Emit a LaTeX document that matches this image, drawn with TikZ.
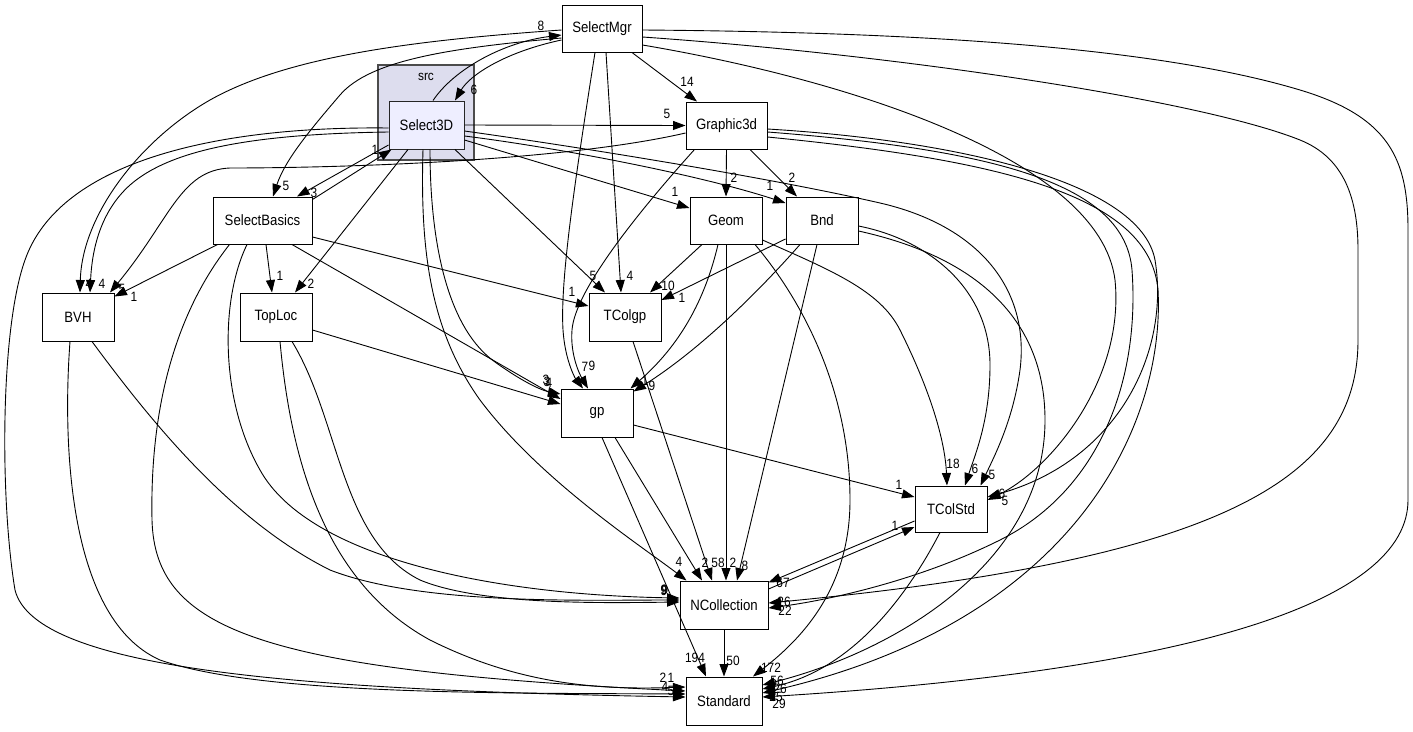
\documentclass[tikz,border=0pt]{standalone}
\usepackage{fontspec}
\setmainfont{Liberation Sans}[FakeStretch=0.88]
\usetikzlibrary{arrows.meta,calc}
\definecolor{clusterfill}{HTML}{DDDDEE}
\definecolor{selfill}{HTML}{EEEEFF}
\tikzset{
  nd/.style={draw=black, line width=1pt, fill=white, inner sep=0pt, font=\fontsize{15}{17}\selectfont},
  e/.style={-{Triangle[length=12.5pt,width=9pt]}, line width=0.9pt},
  lb/.style={font=\fontsize{13.5}{14}\selectfont, inner sep=0pt},
}
\begin{document}
\begin{tikzpicture}[x=1pt,y=-1pt]
\fill[white] (0,0) rectangle (1413,731);
\useasboundingbox (0,0) rectangle (1413,731);
% cluster
\node[draw=black!70, line width=1.5pt, fill=clusterfill, minimum width=96pt, minimum height=95pt, inner sep=0pt] (src) at (426,112.5) {};
\node[lb] (srct) at (426,77) {src};
% nodes
\node[nd, minimum width=80pt, minimum height=47pt] (SelectMgr) at (602,28.5) {SelectMgr};
\node[nd, fill=selfill, draw=black!85, minimum width=75pt, minimum height=48pt] (Select3D) at (426.5,125) {Select3D};
\node[nd, minimum width=81pt, minimum height=47pt] (Graphic3d) at (726.5,125.5) {Graphic3d};
\node[nd, minimum width=99pt, minimum height=47pt] (SelectBasics) at (262.5,220.5) {SelectBasics};
\node[nd, minimum width=72pt, minimum height=47pt] (Geom) at (726,220.5) {Geom};
\node[nd, minimum width=72pt, minimum height=47pt] (Bnd) at (822,220.5) {Bnd};
\node[nd, minimum width=72pt, minimum height=48pt] (BVH) at (78,317) {BVH};
\node[nd, minimum width=72pt, minimum height=48pt] (TopLoc) at (276,317) {TopLoc};
\node[nd, minimum width=72pt, minimum height=48pt] (TColgp) at (625,317) {TColgp};
\node[nd, minimum width=72pt, minimum height=48pt] (gp) at (597,413) {gp};
\node[nd, minimum width=72pt, minimum height=46pt] (TColStd) at (951,509) {TColStd};
\node[nd, minimum width=88pt, minimum height=48pt] (NCollection) at (724,605) {NCollection};
\node[nd, minimum width=76pt, minimum height=48pt] (Standard) at (724,701) {Standard};

% edges from Select3D / SelectMgr
\draw[e] ([xshift=6.5pt]Select3D.north) .. controls (455,68) and (505,42) .. ([yshift=-6.5pt]SelectMgr.west);
\draw[e] ([yshift=-11.5pt]SelectMgr.west) .. controls (505,52) and (470,75) .. ([xshift=28.5pt]Select3D.north);
\draw[e] (Select3D.east) -- (Graphic3d.west);
\draw[e] ([xshift=30pt]SelectMgr.south) -- ([xshift=-29.5pt]Graphic3d.north);
\draw[e] ([yshift=-1.5pt]SelectMgr.west) .. controls (420,40) and (290,55) .. (210,100) .. controls (140,140) and (82,215) .. ([xshift=2pt]BVH.north);
\draw[e] ([yshift=-9.5pt]SelectMgr.west) .. controls (450,48) and (370,60) .. (340,95) .. controls (310,130) and (285,160) .. ([xshift=10.5pt]SelectBasics.north);
\draw[e] ([yshift=-7pt]Select3D.west) .. controls (250,134) and (170,150) .. (130,185) .. controls (100,212) and (92,250) .. ([xshift=12pt]BVH.north);
\draw[e] ([yshift=-7.5pt]Graphic3d.west) .. controls (560,162) and (330,168) .. (230,168) .. controls (180,170) and (170,220) .. ([xshift=32pt]BVH.north);
\draw[e] ([xshift=5pt]SelectBasics.south west) -- ([yshift=-4pt]BVH.north east);
\draw[e] ([yshift=-20pt]Select3D.west) -- ([xshift=34.5pt]SelectBasics.north);
\draw[e] ([yshift=-3pt]SelectBasics.north east) -- ([xshift=3pt]Select3D.south west);
\draw[e] ([xshift=-18.5pt]Select3D.south) -- ([xshift=19pt]TopLoc.north);
\draw[e] ([xshift=3.5pt]SelectBasics.south) -- ([xshift=-4pt]TopLoc.north);
\draw[e] ([yshift=-15pt]Select3D.east) -- ([yshift=12.5pt]Geom.west);
\draw[e] ([yshift=-11pt]Select3D.east) .. controls (560,148) and (700,175) .. ([yshift=17.5pt]Bnd.west);
\draw[e] ([yshift=-6pt]Select3D.east) .. controls (600,150) and (780,180) .. (880,203) .. controls (980,226) and (1030,290) .. (1020,370) .. controls (1013,420) and (995,455) .. ([xshift=-7pt]TColStd.north east);
\draw[e] (Graphic3d.south) -- (Geom.north);
\draw[e] ([xshift=23.5pt]Graphic3d.south) -- ([xshift=-25pt]Bnd.north);
\draw[e] ([xshift=9pt]Graphic3d.south west) .. controls (640,210) and (575,290) .. (572,330) .. controls (570,355) and (580,375) .. ([xshift=-9pt]gp.north);
\draw[e] ([xshift=-7pt]SelectMgr.south) .. controls (575,180) and (560,280) .. (563,330) .. controls (565,360) and (575,378) .. ([xshift=-14pt]gp.north);
\draw[e] ([xshift=4pt]SelectMgr.south) -- ([xshift=-4pt]TColgp.north);
\draw[e] ([xshift=28.5pt]Select3D.south) -- ([xshift=-20pt]TColgp.north);
\draw[e] ([yshift=-16.5pt]SelectBasics.east) -- ([yshift=11pt]TColgp.west);
\draw[e] ([xshift=-24pt]Geom.south) -- ([xshift=25pt]TColgp.north);
\draw[e] ([yshift=-18.5pt]Bnd.west) -- ([yshift=17pt]TColgp.east);
\draw[e] ([xshift=-8pt]Geom.south) .. controls (705,300) and (680,345) .. ([xshift=-3pt]gp.north east);
\draw[e] ([xshift=-22pt]Bnd.south) .. controls (760,290) and (700,350) .. ([yshift=-3pt]gp.north east);
\draw[e] (Geom.south) -- ([xshift=2pt]NCollection.north);
\draw[e] ([xshift=-5pt]Bnd.south) -- ([xshift=13pt]NCollection.north);
\draw[e] ([xshift=8pt]TColgp.south) -- ([xshift=-12pt]NCollection.north);
\draw[e] ([xshift=18pt]gp.south) -- ([xshift=-22pt]NCollection.north);
\draw[e] ([xshift=-3.5pt]Select3D.south) .. controls (420,250) and (430,330) .. (480,400) .. controls (540,480) and (640,545) .. ([xshift=7pt]NCollection.north west);
\draw[e] ([xshift=3.5pt]Select3D.south) .. controls (430,250) and (450,330) .. (495,362) .. controls (520,380) and (540,390) .. ([yshift=19pt]gp.west);
\draw[e] ([xshift=29.5pt]SelectBasics.south) -- ([yshift=14pt]gp.west);
\draw[e] ([yshift=-13pt]TopLoc.east) -- ([yshift=9pt]gp.west);
\draw[e] ([yshift=-12pt]gp.east) -- ([yshift=12pt]TColStd.west);
\draw[e] ([xshift=5pt]gp.south) -- ([xshift=-18pt]Standard.north);
\draw[e] ([yshift=-12pt]TColStd.west) -- ([yshift=-2pt]NCollection.north east);
\draw[e] ([yshift=16pt]NCollection.east) -- ([yshift=-18pt]TColStd.west);
\draw[e] (NCollection.south) -- (Standard.north);
\draw[e] ([xshift=-11pt]TColStd.south) .. controls (905,600) and (850,670) .. ([yshift=12pt]Standard.east);
\draw[e] ([yshift=-5.5pt]Bnd.east) .. controls (930,240) and (990,290) .. (990,365) .. controls (990,420) and (975,455) .. ([xshift=14pt]TColStd.north);
\draw[e] ([yshift=-19.5pt]Geom.east) .. controls (830,270) and (880,290) .. (900,330) .. controls (930,390) and (945,440) .. ([xshift=-4pt]TColStd.north);
\draw[e] ([yshift=-10.5pt]Bnd.east) .. controls (990,260) and (1045,330) .. (1045,420) .. controls (1045,560) and (900,650) .. ([yshift=16pt]Standard.east);
\draw[e] ([xshift=29pt]Geom.south) .. controls (810,310) and (850,400) .. (850,500) .. controls (850,590) and (800,640) .. ([xshift=29pt]Standard.north);
\draw[e] ([yshift=-3.5pt]Graphic3d.east) .. controls (950,140) and (1140,180) .. (1155,260) .. controls (1170,350) and (1120,460) .. ([yshift=12pt]TColStd.east);
\draw[e] ([yshift=-16.5pt]SelectMgr.east) .. controls (850,80) and (1100,160) .. (1115,280) .. controls (1125,380) and (1050,470) .. ([yshift=9pt]TColStd.east);
\draw[e] ([yshift=-6.5pt]Graphic3d.east) .. controls (1000,150) and (1125,185) .. (1132,270) .. controls (1140,380) and (1100,490) .. (1000,540) .. controls (920,580) and (830,600) .. ([yshift=-3pt]NCollection.east);
\draw[e] ([yshift=-11.5pt]Graphic3d.east) .. controls (1000,160) and (1150,195) .. (1158,290) .. controls (1165,420) and (1080,620) .. ([yshift=8pt]Standard.east);
\draw[e] ([yshift=-8.5pt]SelectMgr.east) .. controls (900,55) and (1200,100) .. (1300,140) .. controls (1345,158) and (1358,200) .. (1358,250) -- (1358,340) .. controls (1358,480) and (1220,560) .. ([yshift=2pt]NCollection.east);
\draw[e] ([yshift=-1.5pt]SelectMgr.east) .. controls (900,32) and (1150,45) .. (1300,90) .. controls (1390,117) and (1408,160) .. (1408,230) -- (1408,500) .. controls (1408,600) and (1200,670) .. ([yshift=4pt]Standard.east);
% left side into Standard / NCollection
\draw[e] ([yshift=-3pt]Select3D.west) .. controls (220,126) and (60,160) .. (25,260) .. controls (0,330) and (0,500) .. (15,590) .. controls (35,670) and (300,690) .. ([yshift=4pt]Standard.west);
\draw[e] ([xshift=-8pt]BVH.south) .. controls (62,450) and (70,620) .. (160,660) .. controls (260,695) and (500,693) .. ([yshift=7pt]Standard.west);
\draw[e] ([xshift=17pt]SelectBasics.south west) .. controls (170,320) and (150,420) .. (152,520) .. controls (155,630) and (260,670) .. ([yshift=10pt]Standard.west);
\draw[e] ([xshift=4pt]TopLoc.south) .. controls (290,450) and (320,580) .. (430,640) .. controls (520,685) and (600,690) .. ([yshift=14pt]Standard.west);
\draw[e] ([xshift=14pt]BVH.south) .. controls (150,420) and (230,520) .. (330,570) .. controls (420,605) and (580,600) .. ([yshift=5pt]NCollection.west);
\draw[e] ([xshift=-15.5pt]SelectBasics.south) .. controls (220,300) and (220,400) .. (260,470) .. controls (310,560) and (500,595) .. ([yshift=7pt]NCollection.west);
\draw[e] ([xshift=16pt]TopLoc.south) .. controls (340,420) and (340,540) .. (420,580) .. controls (480,605) and (600,603) .. ([yshift=3pt]NCollection.west);

% labels
\node[lb] (l01) at (541,26) {8};
\node[lb] (l02) at (474,90) {6};
\node[lb] (l03) at (667,114) {5};
\node[lb] (l04) at (687,82) {14};
\node[lb] (l05) at (89,284) {4};
\node[lb] (l06) at (286,186) {5};
\node[lb] (l07) at (102,284) {4};
\node[lb] (l08) at (122,289) {5};
\node[lb] (l09) at (134,297) {1};
\node[lb] (l10) at (314,193) {3};
\node[lb] (l11) at (375,150) {1};
\node[lb] (l12) at (311,284) {2};
\node[lb] (l13) at (280,276) {1};
\node[lb] (l14) at (675,192) {1};
\node[lb] (l15) at (770,186) {1};
\node[lb] (l16) at (992,475) {5};
\node[lb] (l17) at (734,178) {2};
\node[lb] (l18) at (792,178) {2};
\node[lb] (l19) at (592,366) {9};
\node[lb] (l20) at (585,367) {7};
\node[lb] (l21) at (630,276) {4};
\node[lb] (l22) at (593,276) {5};
\node[lb] (l23) at (572,292) {1};
\node[lb] (l24) at (668,286) {10};
\node[lb] (l25) at (682,298) {1};
\node[lb] (l26) at (645,381) {1};
\node[lb] (l27) at (652,386) {9};
\node[lb] (l28) at (733,563) {2};
\node[lb] (l29) at (745,566) {8};
\node[lb] (l30) at (718,563) {58};
\node[lb] (l31) at (705,563) {2};
\node[lb] (l32) at (679,562) {4};
\node[lb] (l33) at (546,380) {3};
\node[lb] (l34) at (549,383) {4};
\node[lb] (l35) at (547,382) {3};
\node[lb] (l36) at (899,485) {1};
\node[lb] (l37) at (695,658) {194};
\node[lb] (l38) at (783,583) {67};
\node[lb] (l39) at (895,526) {1};
\node[lb] (l40) at (733,661) {50};
\node[lb] (l41) at (975,469) {6};
\node[lb] (l42) at (953,464) {18};
\node[lb] (l43) at (777,681) {56};
\node[lb] (l44) at (771,668) {172};
\node[lb] (l45) at (1002,494) {6};
\node[lb] (l46) at (1005,501) {5};
\node[lb] (l47) at (785,611) {22};
\node[lb] (l48) at (784,602) {26};
\node[lb] (l49) at (779,704) {29};
\node[lb] (l50) at (776,697) {25};
\node[lb] (l51) at (780,689) {26};
\node[lb] (l52) at (663,678) {2};
\node[lb] (l53) at (671,678) {1};
\node[lb] (l54) at (665,687) {4};
\node[lb] (l55) at (671,691) {5};
\node[lb] (l56) at (664,590) {9};
\node[lb] (l57) at (665,590) {9};
\node[lb] (l58) at (664,591) {9};
\end{tikzpicture}
\end{document}
